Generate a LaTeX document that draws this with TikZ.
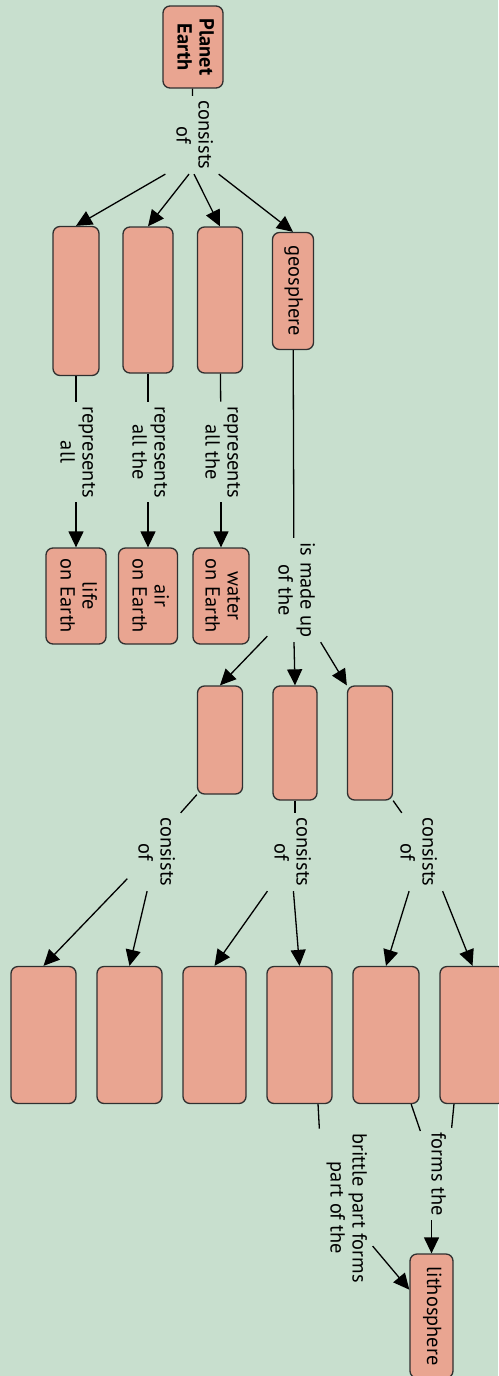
\documentclass[tikz,border=0pt]{standalone}
\usepackage{fontspec}
\setmainfont{PT Sans}
\usetikzlibrary{arrows.meta,calc}

\definecolor{bgcol}{HTML}{C8DFCE}
\definecolor{boxcol}{HTML}{E9A591}
\definecolor{edgecol}{HTML}{303030}

% text of the map runs top to bottom
\newcommand{\vtext}[1]{\rotatebox{-90}{\begin{tabular}{@{}c@{}}#1\end{tabular}}}

\begin{document}
\begin{tikzpicture}[
    x=0.5pt, y=-0.5pt, line width=0.65pt,
    concept/.style={rectangle, rounded corners=3.5pt, draw=edgecol, fill=boxcol, inner sep=0pt, font=\fontsize{10.2}{11}\selectfont},
    dim/.style 2 args={minimum width=#1*0.5pt, minimum height=#2*0.5pt},
    link/.style={inner sep=2pt, font=\fontsize{10.2}{11}\selectfont},
    arr/.style={-{Triangle[length=8pt,width=7.5pt]}}
]

\fill[bgcol] (0,0) rectangle (498,1376);
\useasboundingbox (0,0) rectangle (498,1376);

% Top concept
\node[concept, dim={60}{82}] (earth) at (193,47) {\bfseries\vtext{Planet\\Earth}};
\node[link] (l0) at (192,135) {\vtext{consists\\of}};

% Four parts
\node[concept, dim={46}{149}] (a1) at (76,301) {};
\node[concept, dim={50}{146}] (a2) at (148,300) {};
\node[concept, dim={45}{146}] (a3) at (220,300) {};
\node[concept, dim={41}{117}] (geo) at (293,291) {\vtext{geosphere}};

\node[link] (r1) at (76,452) {\vtext{represents\\all}};
\node[link] (r2) at (148,452) {\vtext{represents\\all the}};
\node[link] (r3) at (221,452) {\vtext{represents\\all the}};

\node[concept, dim={60}{96}] (life) at (76,596) {\vtext{life\\on Earth}};
\node[concept, dim={59}{96}] (air) at (148,596) {\vtext{air\\on Earth}};
\node[concept, dim={56}{96}] (water) at (221,596) {\vtext{water\\on Earth}};

% Layers of the geosphere
\node[link] (made) at (294,590) {\vtext{is made up\\of the}};
\node[concept, dim={45}{108}] (b1) at (220,740) {};
\node[concept, dim={44}{114}] (b2) at (295,743) {};
\node[concept, dim={45}{114}] (b3) at (370,743) {};

\node[link] (k1) at (154,852) {\vtext{consists\\of}};
\node[link] (k2) at (290,852) {\vtext{consists\\of}};
\node[link] (k3) at (416,852) {\vtext{consists\\of}};

\node[concept, dim={65}{137}] (c1) at (43.5,1035) {};
\node[concept, dim={65}{137}] (c2) at (129.5,1035) {};
\node[concept, dim={63}{137}] (c3) at (214.5,1035) {};
\node[concept, dim={65}{137}] (c4) at (299.5,1035) {};
\node[concept, dim={66}{137}] (c5) at (386,1035) {};
\node[concept, dim={65}{137}] (c6) at (472.5,1035) {};

\node[link] (brittle) at (346,1208) {\vtext{brittle part forms\\part of the}};
\node[link] (forms) at (436,1174) {\vtext{forms the}};
\node[concept, dim={43}{124}] (litho) at (431.5,1316) {\vtext{lithosphere}};

% Connections
\draw (earth) -- (l0);
\draw[arr] (l0.south west) -- (a1.north);
\draw[arr] ($(l0.south)+(-3,0)$) -- (a2.north);
\draw[arr] ($(l0.south)+(2,0)$) -- (a3.north);
\draw[arr] (l0.south east) -- (geo.north);

\draw (a1) -- (r1);
\draw[arr] (r1) -- (life);
\draw (a2) -- (r2);
\draw[arr] (r2) -- (air);
\draw (a3) -- (r3);
\draw[arr] (r3) -- (water);

\draw (geo) -- (made);
\draw[arr] (made.-120) -- (b1.north);
\draw[arr] (made.south) -- (b2.north);
\draw[arr] (made.south east) -- (b3.north west);

\draw (b1.south west) -- (k1.north east);
\draw[arr] (k1.-135) -- (c1.north);
\draw[arr] (k1.-100) -- (c2.north);
\draw (b2.south) -- (b2.south |- k2.north);
\draw[arr] (k2.-120) -- (c3.north);
\draw[arr] (k2.-85) -- (c4.north);
\draw (b3.south east) -- (k3.110);
\draw[arr] (k3.-100) -- (c5.north);
\draw[arr] (k3.south east) -- (c6.north);

\draw (c4.-75) -- (brittle.north west);
\draw[arr] (brittle.-55) -- (litho);
\draw (c5.-70) -- (forms.110);
\draw (c6.-105) -- (forms.north east);
\draw[arr] (forms.south -| litho.north) -- (litho.north);

\end{tikzpicture}
\end{document}
